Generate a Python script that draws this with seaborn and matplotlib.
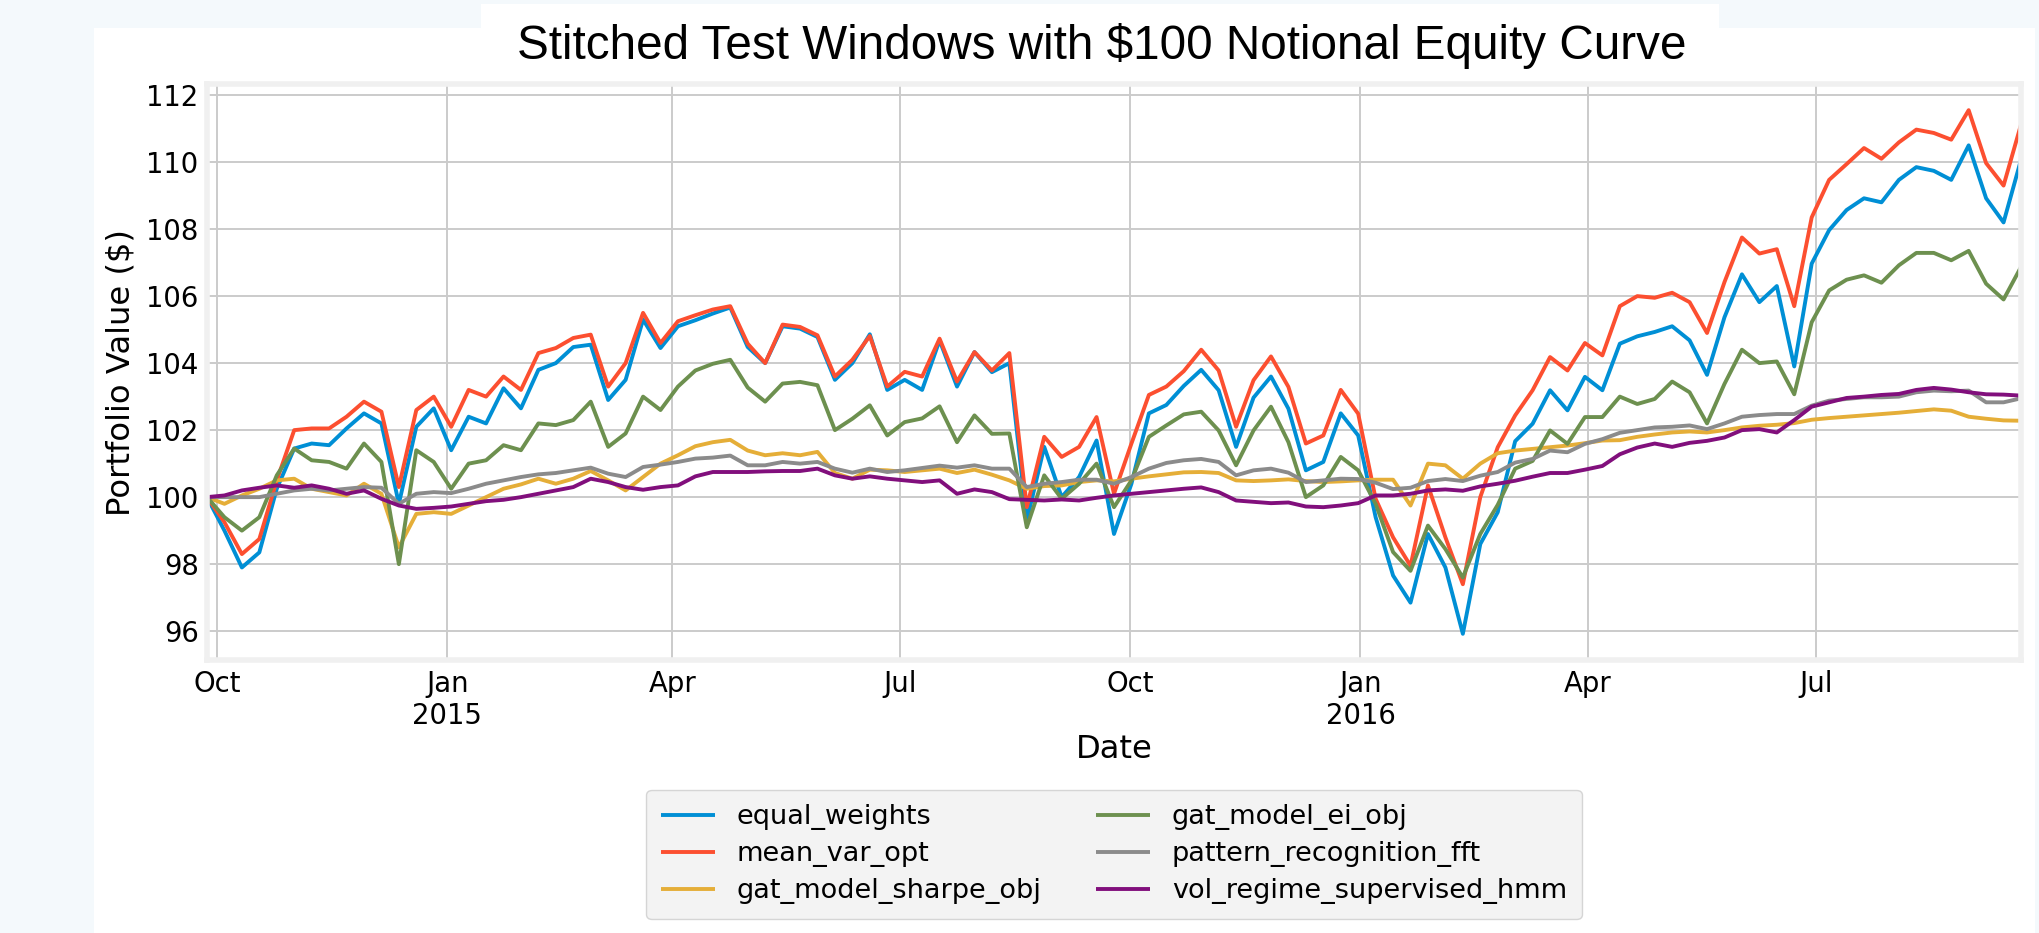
import matplotlib
matplotlib.use("Agg")
import matplotlib.pyplot as plt
import matplotlib.dates as mdates
from matplotlib.patches import Rectangle
from matplotlib.ticker import FuncFormatter, MultipleLocator
import pandas as pd
import seaborn as sns

# ─── Data (about one point per week) ──────────────────────────────────────────

dates = pd.date_range("2014-09-27", "2016-09-21", periods=105)

equal_weights = [
    100.0, 99.0, 97.9, 98.35, 100.25, 101.45, 101.6, 101.55, 102.05, 102.5,
    102.2, 99.8, 102.1, 102.65, 101.4, 102.4, 102.2, 103.25, 102.65, 103.8,
    104.0, 104.48, 104.55, 102.9, 103.5, 105.3, 104.45, 105.1, 105.28, 105.48,
    105.66, 104.48, 104.0, 105.1, 105.03, 104.78, 103.5, 104.0, 104.86, 103.2,
    103.5, 103.2, 104.68, 103.3, 104.33, 103.73, 104.0, 99.3, 101.5, 100.0,
    100.6, 101.69, 98.9, 100.4, 102.5, 102.75, 103.32, 103.8, 103.19, 101.5,
    102.97, 103.6, 102.64, 100.8, 101.05, 102.5, 101.84, 99.4, 97.66, 96.85,
    98.9, 97.9, 95.92, 98.6, 99.55, 101.67, 102.19, 103.19, 102.59, 103.59,
    103.19, 104.58, 104.8, 104.93, 105.1, 104.68, 103.65, 105.37, 106.65, 105.82,
    106.3, 103.9, 106.97, 107.97, 108.57, 108.92, 108.8, 109.47, 109.85, 109.74,
    109.47, 110.5, 108.92, 108.2, 110.07,
]

mean_var_opt = [
    100.0, 99.25, 98.3, 98.75, 100.5, 102.0, 102.05, 102.05, 102.4, 102.85,
    102.55, 100.3, 102.6, 103.0, 102.1, 103.2, 103.0, 103.6, 103.2, 104.3,
    104.45, 104.75, 104.85, 103.3, 104.0, 105.5, 104.6, 105.25, 105.43, 105.6,
    105.7, 104.58, 104.0, 105.15, 105.08, 104.83, 103.6, 104.1, 104.81, 103.3,
    103.74, 103.6, 104.73, 103.45, 104.33, 103.78, 104.3, 99.7, 101.8, 101.2,
    101.5, 102.39, 100.1, 101.6, 103.05, 103.3, 103.76, 104.4, 103.78, 102.1,
    103.49, 104.2, 103.29, 101.6, 101.84, 103.2, 102.49, 99.95, 98.8, 97.95,
    100.35, 98.8, 97.4, 100.0, 101.49, 102.44, 103.19, 104.18, 103.78, 104.6,
    104.23, 105.7, 106.0, 105.95, 106.1, 105.82, 104.9, 106.42, 107.75, 107.27,
    107.4, 105.7, 108.35, 109.47, 109.94, 110.42, 110.1, 110.59, 110.97, 110.87,
    110.67, 111.55, 109.97, 109.3, 111.12,
]

gat_model_sharpe_obj = [
    100.0, 99.8, 100.05, 100.25, 100.5, 100.55, 100.25, 100.15, 100.05, 100.4,
    100.1, 98.5, 99.5, 99.55, 99.5, 99.75, 100.0, 100.25, 100.38, 100.55,
    100.4, 100.55, 100.78, 100.5, 100.2, 100.6, 101.0, 101.25, 101.52, 101.64,
    101.71, 101.39, 101.25, 101.31, 101.25, 101.35, 100.72, 100.55, 100.82, 100.8,
    100.75, 100.8, 100.85, 100.72, 100.82, 100.67, 100.5, 100.25, 100.33, 100.35,
    100.45, 100.5, 100.47, 100.55, 100.62, 100.68, 100.74, 100.75, 100.72, 100.5,
    100.48, 100.5, 100.53, 100.48, 100.45, 100.47, 100.5, 100.52, 100.52, 99.75,
    101.0, 100.95, 100.55, 101.0, 101.31, 101.39, 101.44, 101.49, 101.54, 101.61,
    101.69, 101.7, 101.8, 101.87, 101.93, 101.96, 101.93, 102.0, 102.08, 102.13,
    102.16, 102.21, 102.31, 102.36, 102.4, 102.44, 102.48, 102.52, 102.57, 102.62,
    102.58, 102.4, 102.34, 102.29, 102.28,
]

gat_model_ei_obj = [
    100.0, 99.4, 99.0, 99.4, 100.65, 101.45, 101.1, 101.05, 100.85, 101.6,
    101.05, 98.0, 101.4, 101.05, 100.25, 101.0, 101.1, 101.55, 101.4, 102.2,
    102.15, 102.3, 102.85, 101.5, 101.9, 103.0, 102.6, 103.3, 103.78, 103.98,
    104.1, 103.27, 102.85, 103.39, 103.44, 103.34, 102.0, 102.34, 102.74, 101.84,
    102.24, 102.35, 102.71, 101.64, 102.44, 101.89, 101.9, 99.1, 100.65, 99.95,
    100.4, 101.0, 99.7, 100.5, 101.8, 102.14, 102.47, 102.55, 101.99, 100.95,
    101.99, 102.7, 101.64, 100.0, 100.35, 101.2, 100.8, 99.8, 98.36, 97.8,
    99.15, 98.45, 97.6, 98.9, 99.77, 100.85, 101.08, 101.99, 101.59, 102.39,
    102.39, 103.0, 102.78, 102.93, 103.45, 103.13, 102.2, 103.38, 104.4, 104.0,
    104.05, 103.07, 105.22, 106.17, 106.49, 106.62, 106.4, 106.92, 107.29, 107.29,
    107.07, 107.35, 106.37, 105.9, 106.87,
]

pattern_recognition_fft = [
    100.0, 100.0, 100.0, 100.0, 100.1, 100.2, 100.25, 100.2, 100.25, 100.3,
    100.28, 99.8, 100.1, 100.15, 100.12, 100.25, 100.4, 100.5, 100.6, 100.68,
    100.72, 100.8, 100.88, 100.7, 100.6, 100.9, 100.97, 101.05, 101.15, 101.18,
    101.24, 100.95, 100.95, 101.05, 101.0, 101.05, 100.85, 100.73, 100.85, 100.75,
    100.8, 100.87, 100.94, 100.88, 100.95, 100.85, 100.85, 100.3, 100.4, 100.45,
    100.52, 100.52, 100.4, 100.6, 100.85, 101.02, 101.1, 101.14, 101.05, 100.65,
    100.8, 100.85, 100.73, 100.45, 100.5, 100.55, 100.54, 100.43, 100.24, 100.28,
    100.48, 100.54, 100.48, 100.64, 100.75, 101.03, 101.14, 101.39, 101.34, 101.59,
    101.73, 101.92, 102.0, 102.08, 102.1, 102.14, 102.03, 102.2, 102.4, 102.45,
    102.48, 102.48, 102.73, 102.88, 102.93, 102.98, 102.98, 103.0, 103.13, 103.18,
    103.16, 103.18, 102.83, 102.83, 102.95,
]

vol_regime_supervised_hmm = [
    100.0, 100.05, 100.2, 100.28, 100.35, 100.28, 100.35, 100.25, 100.1, 100.2,
    99.95, 99.75, 99.65, 99.68, 99.72, 99.8, 99.88, 99.92, 100.0, 100.1,
    100.2, 100.3, 100.55, 100.45, 100.3, 100.22, 100.3, 100.35, 100.62, 100.75,
    100.75, 100.75, 100.77, 100.78, 100.78, 100.85, 100.65, 100.55, 100.62, 100.55,
    100.5, 100.45, 100.5, 100.1, 100.23, 100.15, 99.94, 99.92, 99.9, 99.93,
    99.9, 99.98, 100.05, 100.1, 100.15, 100.2, 100.25, 100.29, 100.15, 99.9,
    99.86, 99.82, 99.84, 99.72, 99.7, 99.75, 99.82, 100.05, 100.05, 100.1,
    100.2, 100.23, 100.19, 100.32, 100.4, 100.49, 100.61, 100.72, 100.72, 100.82,
    100.93, 101.28, 101.48, 101.6, 101.5, 101.62, 101.68, 101.78, 102.0, 102.03,
    101.93, 102.3, 102.7, 102.83, 102.96, 103.0, 103.05, 103.08, 103.2, 103.26,
    103.21, 103.13, 103.07, 103.06, 103.03,
]

strategies = [
    "equal_weights", "mean_var_opt", "gat_model_sharpe_obj",
    "gat_model_ei_obj", "pattern_recognition_fft", "vol_regime_supervised_hmm",
]
colors = ["#008fd5", "#fc4f30", "#e5ae38", "#6d904f", "#8b8b8b", "#810f7c"]

TITLE = "Stitched Test Windows with $100 Notional Equity Curve"

# ─── Style ────────────────────────────────────────────────────────────────────

sns.set_theme(style="whitegrid", rc={
    "axes.facecolor": "white",
    "axes.edgecolor": "#f0f0f0",
    "axes.linewidth": 4.0,
    "grid.color": "#cbcbcb",
    "grid.linewidth": 1.4,
    "xtick.major.size": 0,
    "ytick.major.size": 0,
    "xtick.major.pad": 7,
    "ytick.major.pad": 6,
    "xtick.labelsize": 19.8,
    "ytick.labelsize": 19.8,
    "axes.labelsize": 23.2,
    "text.color": "black",
    "axes.labelcolor": "black",
    "xtick.color": "black",
    "ytick.color": "black",
    "lines.solid_capstyle": "butt",
})
plt.rcParams["font.family"] = ["DejaVu Sans"]

df = pd.DataFrame({
    "Date": dates,
    "equal_weights": equal_weights,
    "mean_var_opt": mean_var_opt,
    "gat_model_sharpe_obj": gat_model_sharpe_obj,
    "gat_model_ei_obj": gat_model_ei_obj,
    "pattern_recognition_fft": pattern_recognition_fft,
    "vol_regime_supervised_hmm": vol_regime_supervised_hmm,
})
long_df = df.melt(id_vars="Date", var_name="strategy", value_name="value")

# ─── Figure ───────────────────────────────────────────────────────────────────

W, H = 2040, 933
fig = plt.figure(figsize=(W / 100, H / 100), dpi=100, facecolor="#f4f9fc")

# white page panel + title box of the screenshot
fig.patches.append(Rectangle((94 / W, 0), (2035 - 94) / W, (H - 28) / H,
                             transform=fig.transFigure, facecolor="white",
                             edgecolor="none", zorder=-2))
fig.patches.append(Rectangle((481 / W, 1 - 40 / H), 1238 / W, 36 / H,
                             transform=fig.transFigure, facecolor="white",
                             edgecolor="none", zorder=-2))

ax = fig.add_axes([207 / W, 1 - 660 / H, (2021 - 207) / W, (660 - 84) / H])

sns.lineplot(data=long_df, x="Date", y="value", hue="strategy",
             hue_order=strategies, palette=colors, linewidth=2.8,
             estimator=None, ax=ax)

ax.set_xlim(dates[0], dates[-1])
ax.yaxis.set_major_locator(MultipleLocator(2))
ax.xaxis.set_major_locator(mdates.MonthLocator(bymonth=[1, 4, 7, 10]))


def month_label(x, pos):
    d = mdates.num2date(x)
    return d.strftime("%b\n%Y") if d.month == 1 else d.strftime("%b")


ax.xaxis.set_major_formatter(FuncFormatter(month_label))

ax.set_xlabel("Date", labelpad=3)
ax.set_ylabel("Portfolio Value ($)", labelpad=7)

sns.move_legend(ax, "upper center", bbox_to_anchor=(0.5, -0.2014), ncol=2,
                title=None, frameon=True, fontsize=19.5, facecolor="#f0f0f0",
                edgecolor="#cccccc", framealpha=0.8, labelspacing=0.4,
                borderpad=0.55)

fig.text(1101.5 / W, 1 - 59 / H, TITLE, family="Liberation Sans",
         fontsize=34.3, ha="center", va="baseline", color="black")

fig.savefig("out.png", dpi=100, facecolor=fig.get_facecolor())
